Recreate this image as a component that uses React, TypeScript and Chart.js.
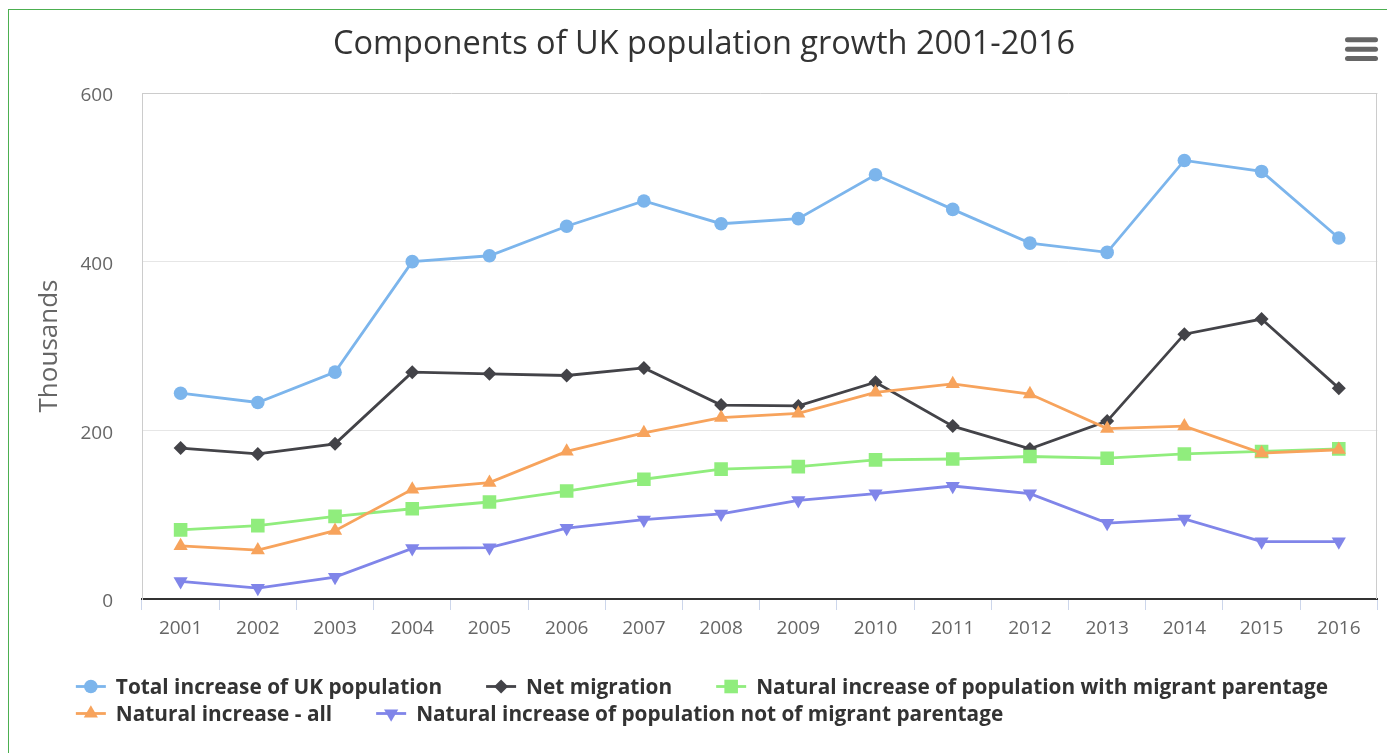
import React, { useEffect, useRef } from "react";
import { Chart, registerables } from "chart.js";
import { drawPoint } from "chart.js/helpers";

Chart.register(...registerables);

const chartTitle = "Components of UK population growth 2001-2016";
const yAxisTitle = "Thousands";
const years = ["2001", "2002", "2003", "2004", "2005", "2006", "2007", "2008", "2009", "2010", "2011", "2012", "2013", "2014", "2015", "2016"];
const yTickValues = [0, 200, 400, 600];

const totalIncrease = [244, 233, 269, 400, 407, 442, 472, 445, 451, 503, 462, 422, 411, 520, 507, 428];
const netMigration = [179, 172, 184, 269, 267, 265, 274, 230, 229, 257, 205, 178, 211, 314, 332, 250];
const migrantParentage = [82, 87, 98, 107, 115, 128, 142, 154, 157, 165, 166, 169, 167, 172, 175, 178];
const naturalAll = [63, 58, 81, 130, 138, 175, 197, 215, 220, 245, 255, 243, 202, 205, 173, 177];
const notMigrantParentage = [21, 13, 26, 60, 61, 84, 94, 101, 117, 125, 134, 125, 90, 95, 68, 68];

const seriesNames = [
  "Total increase of UK population",
  "Net migration",
  "Natural increase of population with migrant parentage",
  "Natural increase - all",
  "Natural increase of population not of migrant parentage",
];
const seriesColors = ["#7cb5ec", "#434348", "#90ed7d", "#f7a35c", "#8085e9"];

const FONT = "'Open Sans', sans-serif";
const LINE_W = 2.8;

const markers = [
  { pointStyle: "circle", radius: 6.8, rotation: 0 },
  { pointStyle: "rectRot", radius: 7, rotation: 0 },
  { pointStyle: "rect", radius: 9.6, rotation: 0 },
  { pointStyle: "triangle", radius: 8.2, rotation: 0 },
  { pointStyle: "triangle", radius: 8.2, rotation: 180 },
];

const decorPlugin = {
  id: "decor",
  beforeDatasetsDraw(chart: any) {
    const { ctx, chartArea } = chart;
    ctx.save();
    ctx.strokeStyle = "#cccccc";
    ctx.lineWidth = 1;
    ctx.beginPath();
    ctx.moveTo(Math.round(chartArea.right) - 0.5, chartArea.top);
    ctx.lineTo(Math.round(chartArea.right) - 0.5, chartArea.bottom);
    ctx.stroke();
    ctx.restore();
  },
  afterDraw(chart: any) {
    const ctx = chart.ctx;
    ctx.save();
    // title
    ctx.fillStyle = "#333333";
    ctx.font = `32.5px ${FONT}`;
    ctx.textAlign = "center";
    ctx.textBaseline = "alphabetic";
    ctx.fillText(chartTitle, 704, 54);

    // y axis title
    ctx.save();
    ctx.translate(57, 346);
    ctx.rotate(-Math.PI / 2);
    ctx.fillStyle = "#666666";
    ctx.font = `26px ${FONT}`;
    ctx.textAlign = "center";
    ctx.textBaseline = "alphabetic";
    ctx.fillText(yAxisTitle, 0, 0);
    ctx.restore();

    // menu icon
    ctx.strokeStyle = "#666666";
    ctx.lineWidth = 5;
    ctx.lineCap = "round";
    [39.8, 49.2, 58.5].forEach((y) => {
      ctx.beginPath();
      ctx.moveTo(1347.5, y);
      ctx.lineTo(1375.5, y);
      ctx.stroke();
    });

    // legend
    const symbolW = 30;
    const textGap = 10;
    const itemGap = 44;
    const maxRowW = 1300;
    ctx.font = `bold 20.8px ${FONT}`;
    const items = chart.data.datasets.map((ds: any, i: number) => ({
      ds,
      i,
      w: symbolW + textGap + ctx.measureText(ds.label).width,
    }));
    const rows: any[][] = [];
    let cur: any[] = [];
    let curW = 0;
    items.forEach((it: any) => {
      const add = cur.length ? itemGap + it.w : it.w;
      if (cur.length && curW + add > maxRowW) {
        rows.push(cur);
        cur = [it];
        curW = it.w;
      } else {
        cur.push(it);
        curW += add;
      }
    });
    if (cur.length) rows.push(cur);
    const rowWidths = rows.map((r) => r.reduce((s, it, k) => s + it.w + (k ? itemGap : 0), 0));
    const blockW = Math.max(...rowWidths);
    const left = 702 - blockW / 2;
    rows.forEach((row, r) => {
      const y = 686.5 + r * 27;
      let x = left;
      row.forEach((it: any) => {
        const color = seriesColors[it.i];
        ctx.strokeStyle = color;
        ctx.lineWidth = LINE_W;
        ctx.lineCap = "butt";
        ctx.beginPath();
        ctx.moveTo(x, y);
        ctx.lineTo(x + symbolW, y);
        ctx.stroke();
        ctx.fillStyle = color;
        const m = markers[it.i];
        drawPoint(ctx, { pointStyle: m.pointStyle, radius: m.radius, rotation: m.rotation, borderWidth: 0 } as any, x + symbolW / 2, y);
        ctx.fillStyle = "#333333";
        ctx.textAlign = "left";
        ctx.textBaseline = "alphabetic";
        ctx.fillText(it.ds.label, x + symbolW + textGap, y + 7.5);
        x += it.w + itemGap;
      });
    });
    ctx.restore();
  },
};

export default function App() {
  const canvasRef = useRef<HTMLCanvasElement | null>(null);

  useEffect(() => {
    const canvas = canvasRef.current;
    if (!canvas) return;
    const seriesData = [totalIncrease, netMigration, migrantParentage, naturalAll, notMigrantParentage];
    const datasets = seriesData.map((data, i) => ({
      label: seriesNames[i],
      data,
      borderColor: seriesColors[i],
      backgroundColor: seriesColors[i],
      pointBackgroundColor: seriesColors[i],
      borderWidth: LINE_W,
      pointStyle: markers[i].pointStyle as any,
      pointRadius: markers[i].radius,
      pointRotation: markers[i].rotation,
      pointBorderWidth: 0,
      tension: 0,
      fill: false,
      order: 5 - i,
    }));

    const chart = new Chart(canvas, {
      type: "line",
      data: { labels: years, datasets },
      plugins: [decorPlugin],
      options: {
        animation: false,
        responsive: false,
        devicePixelRatio: 1,
        events: [],
        layout: { padding: { top: 93, right: 6, bottom: 104, left: 0 } },
        plugins: {
          legend: { display: false },
          title: { display: false },
          tooltip: { enabled: false },
        },
        scales: {
          x: {
            type: "category",
            offset: true,
            afterFit: (axis: any) => {
              axis.height = 50;
            },
            grid: {
              offset: true,
              drawOnChartArea: false,
              drawTicks: true,
              tickLength: 11,
              color: "#ccd6eb",
              lineWidth: 1,
            },
            border: { display: true, color: "#333333", width: 2 },
            ticks: {
              color: "#666666",
              font: { family: FONT, size: 19 },
              padding: 7,
              maxRotation: 0,
              autoSkip: false,
            },
          },
          y: {
            min: 0,
            max: 600,
            afterFit: (axis: any) => {
              axis.width = 142;
            },
            afterBuildTicks: (axis: any) => {
              axis.ticks = yTickValues.map((v) => ({ value: v }));
            },
            grid: {
              drawTicks: false,
              color: (c: any) => (c.tick && c.tick.value === 600 ? "#cccccc" : "#e6e6e6"),
              lineWidth: 1,
            },
            border: { display: true, color: "#cccccc", width: 1 },
            ticks: {
              color: "#666666",
              font: { family: FONT, size: 19 },
              padding: 29,
              labelOffset: 3,
            },
          },
        },
      },
    });
    return () => chart.destroy();
  }, []);

  return (
    <div>
      <div
        style={{
          position: "fixed",
          left: 8,
          top: 9,
          width: 1500,
          height: 900,
          border: "1px solid #4caf50",
          boxSizing: "border-box",
        }}
      />
      <canvas
        ref={canvasRef}
        width={1387}
        height={753}
        style={{ position: "fixed", left: 0, top: 0, width: 1387, height: 753 }}
      />
    </div>
  );
}
